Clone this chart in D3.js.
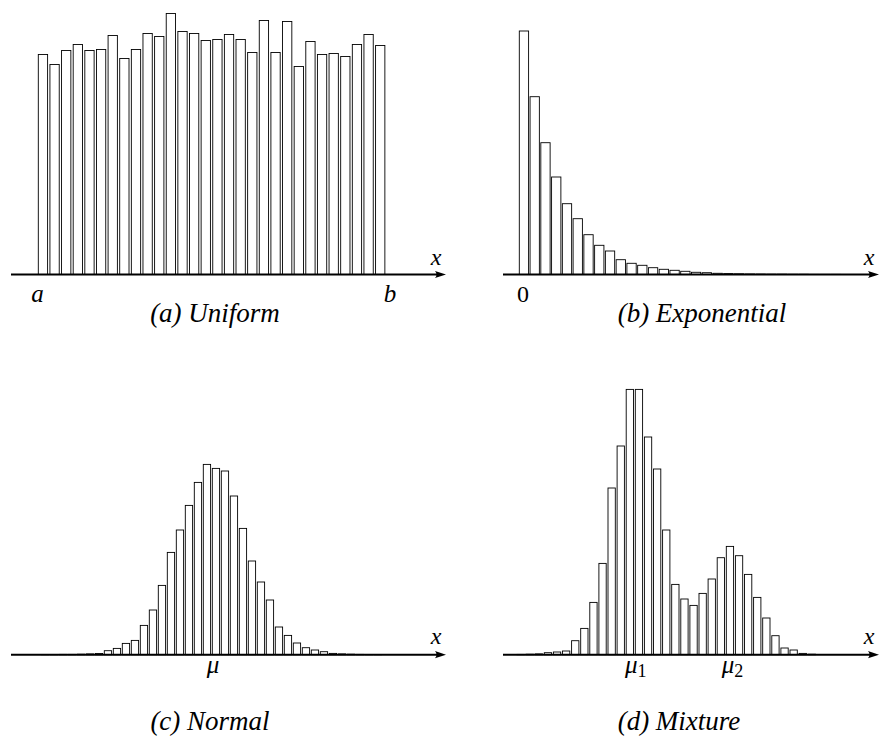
<!DOCTYPE html>
<html>
<head>
<meta charset="utf-8">
<script src="https://cdn.jsdelivr.net/npm/d3@7"></script>
<style>
  html, body { margin: 0; padding: 0; background: #fff; }
  svg { display: block; }
</style>
</head>
<body>
<svg id="chart" width="879" height="738"></svg>
<script>
// ---- Data (bar heights, arbitrary count units) ----
const uniformCounts = [220, 210, 224, 230, 224, 225, 239, 216, 225, 241, 238, 261, 243, 241, 234,
                       235, 240, 235, 222, 254, 222, 253, 208, 233, 220, 221, 218, 230, 240, 229];
const exponentialCounts = [243.5, 177.8, 131.8, 97.5, 70.8, 55.8, 39.8, 29.2, 23.5, 14.8, 11.2, 9.2, 6.8, 5.2, 4.2,
                           3.2, 2.2, 1.8, 1.2, 0.9, 0.7, 0.5, 0.4, 0.3, 0.3, 0.2, 0.2, 0.1, 0.1, 0.1];
const normalCounts = [0.2, 0.2, 0.3, 0.3, 0.5, 0.8, 1.2,
                      4, 6.3, 11.3, 14.3, 29.3, 44.7, 69.3, 102.3, 124.7, 149.3, 172.3, 190.3, 186.3, 183.7,
                      158.7, 126.3, 93.7, 72.7, 54.7, 27.7, 19.3, 11.7, 7, 4.7, 3, 1.3,
                      0.8, 0.5, 0.3, 0.2, 0.1];
const mixtureCounts = [0.3, 0.5, 0.8, 2, 2.7, 3.7, 14, 26.3, 52.3, 91.3, 166.7, 208.7, 265.3, 265.3, 217.7,
                       185.7, 124.7, 70.3, 55.7, 49.3, 61.3, 75.7, 97, 108.3, 99, 80.3, 57.3, 36.7, 19,
                       6.7, 4.7, 1.3, 0.5];
const captions = ["(a) Uniform", "(b) Exponential", "(c) Normal", "(d) Mixture"];
const axisLabel = "x";
const tickLabelsA = ["a", "b"];
const tickLabelsB = ["0"];
const tickLabelsC = ["μ"];
const tickLabelsD = [["μ", "1"], ["μ", "2"]];

const SERIF = "'Liberation Serif', 'Times New Roman', 'DejaVu Serif', serif";

// ---- Layout ----
const svg = d3.select("#chart");

const panels = [
  { data: uniformCounts, x0: 38.3, step: 11.63, barW: 9.3, axisY: 274.5, ax1: 11, ax2: 446,
    caption: captions[0], capX: 215, capY: 322, xlabX: 436, xlabY: 265 },
  { data: exponentialCounts, x0: 519.3, step: 10.76, barW: 9.3, axisY: 274.5, ax1: 503, ax2: 879,
    caption: captions[1], capX: 702, capY: 322, xlabX: 869, xlabY: 265 },
  { data: normalCounts, x0: 41.3, step: 9.0, barW: 7.3, axisY: 654.7, ax1: 11, ax2: 446,
    caption: captions[2], capX: 210, capY: 730, xlabX: 436, xlabY: 644 },
  { data: mixtureCounts, x0: 517, step: 9.1, barW: 7.3, axisY: 654.7, ax1: 503, ax2: 879,
    caption: captions[3], capX: 679, capY: 730, xlabX: 869, xlabY: 644 }
];

// shared vertical scale (1 count unit -> 1 px)
const yLen = d3.scaleLinear().domain([0, 300]).range([0, 300]);

function txt(sel, x, y, s, italic, size, anchor) {
  return sel.append("text")
    .attr("x", x).attr("y", y)
    .attr("text-anchor", anchor || "middle")
    .attr("font-family", SERIF)
    .attr("font-style", italic ? "italic" : "normal")
    .attr("font-size", size)
    .attr("fill", "#000")
    .text(s);
}

panels.forEach((p) => {
  const n = p.data.length;
  const gap = p.step - p.barW;
  const x = d3.scaleBand()
    .domain(d3.range(n))
    .range([p.x0, p.x0 + n * p.step - gap])
    .paddingInner(gap / p.step)
    .paddingOuter(0);

  const g = svg.append("g");
  g.selectAll("rect.bar")
    .data(p.data)
    .join("rect")
    .attr("class", "bar")
    .attr("x", (d, i) => x(i))
    .attr("width", x.bandwidth())
    .attr("y", d => p.axisY - yLen(d))
    .attr("height", d => yLen(d))
    .attr("fill", "#fff")
    .attr("stroke", "#000")
    .attr("stroke-width", 0.9);

  // axis line with arrow
  g.append("line")
    .attr("x1", p.ax1).attr("x2", p.ax2 - 6)
    .attr("y1", p.axisY).attr("y2", p.axisY)
    .attr("stroke", "#000").attr("stroke-width", 2);
  g.append("path")
    .attr("d", `M${p.ax2},${p.axisY} L${p.ax2 - 11},${p.axisY - 3.6} Q${p.ax2 - 8},${p.axisY} ${p.ax2 - 11},${p.axisY + 3.6} Z`)
    .attr("fill", "#000");

  txt(g, p.xlabX, p.xlabY, axisLabel, true, 24);
  txt(g, p.capX, p.capY, p.caption, true, 27);
});

txt(svg, 37.5, 301.5, tickLabelsA[0], true, 25);
txt(svg, 390, 301.5, tickLabelsA[1], true, 25);
txt(svg, 523, 302, tickLabelsB[0], false, 24);
txt(svg, 213, 673, tickLabelsC[0], true, 25);

[[625, tickLabelsD[0]], [721.7, tickLabelsD[1]]].forEach(([xx, parts]) => {
  const t = svg.append("text")
    .attr("x", xx).attr("y", 673)
    .attr("font-family", SERIF).attr("fill", "#000");
  t.append("tspan").attr("font-style", "italic").attr("font-size", 25).text(parts[0]);
  t.append("tspan").attr("dy", 4).attr("font-size", 18).text(parts[1]);
});
</script>
</body>
</html>
